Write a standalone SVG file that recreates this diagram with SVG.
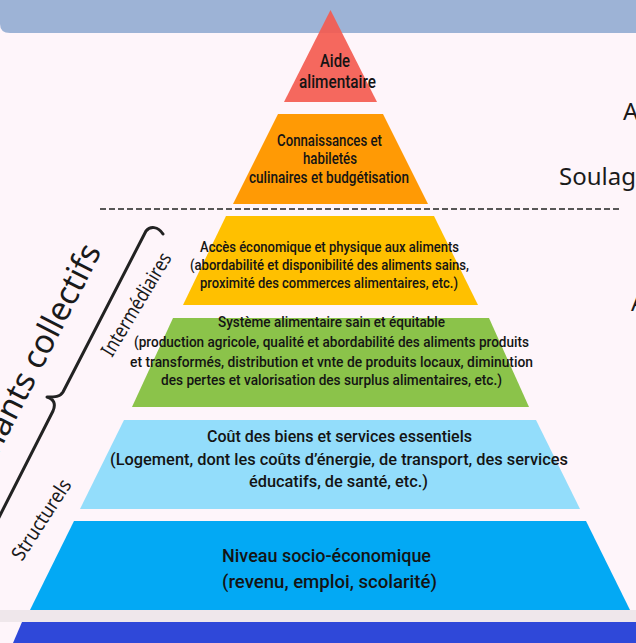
<svg xmlns="http://www.w3.org/2000/svg" width="636" height="643" viewBox="0 0 636 643">
<style>
.pt{font-family:"Liberation Sans Narrow","Roboto","Liberation Sans",sans-serif;font-weight:500;fill:#141414;text-anchor:middle}
.side{font-family:"Noto Sans","Open Sans",sans-serif;fill:#1a1a1a}
.lvl{stroke:none}
</style>
<rect x="0" y="0" width="636" height="643" fill="#FEF5FA"/>
<path d="M0,0 H636 V33 H10 Q0,33 0,24 Z" fill="#9DB3D6"/>
<rect x="0" y="610" width="636" height="12" fill="#EFE7EB"/>
<polygon points="22,622 636,622 636,643 13,643" fill="#2F48D9"/>

<g id="connectors">
<line x1="100" y1="209" x2="622" y2="209" stroke="#222" stroke-width="1.5" stroke-dasharray="6,3"/>
<path d="M163,234 C158,226 150,226 146,231 L63,392 C60,397 55,397 47,397 C54,399 56,404 53,411 L-10,535" fill="none" stroke="#222" stroke-width="3" stroke-linecap="round" stroke-linejoin="round"/>
</g>

<g id="aide">
<polygon class="lvl" points="330.5,10 377,102 284,102" fill="#F45B50" fill-opacity="0.92"/>
<text class="pt" font-size="18.5" x="335" y="67" textLength="30" lengthAdjust="spacingAndGlyphs">Aide</text>
<text class="pt" font-size="18.5" x="337.5" y="88" textLength="77" lengthAdjust="spacingAndGlyphs">alimentaire</text>
</g>

<g id="connaissances">
<polygon class="lvl" points="278,114 383,114 428,204 233,204" fill="#FF9A05"/>
<text class="pt" font-size="16" x="329.5" y="146" textLength="105" lengthAdjust="spacingAndGlyphs">Connaissances et</text>
<text class="pt" font-size="16" x="330" y="164" textLength="54" lengthAdjust="spacingAndGlyphs">habiletés</text>
<text class="pt" font-size="16" x="329" y="183" textLength="160" lengthAdjust="spacingAndGlyphs">culinaires et budgétisation</text>
</g>

<g id="acces">
<polygon class="lvl" points="226,216 434,216 478,305 183,305" fill="#FFC000"/>
<text class="pt" font-size="15" x="329.5" y="252" textLength="259" lengthAdjust="spacingAndGlyphs">Accès économique et physique aux aliments</text>
<text class="pt" font-size="15" x="329.5" y="270" textLength="279" lengthAdjust="spacingAndGlyphs">(abordabilité et disponibilité des aliments sains,</text>
<text class="pt" font-size="15" x="329" y="288" textLength="258" lengthAdjust="spacingAndGlyphs">proximité des commerces alimentaires, etc.)</text>
</g>

<g id="systeme">
<polygon class="lvl" points="173,318 489,318 529,407 132,407" fill="#8BC34A"/>
<text class="pt" font-size="15" x="331.5" y="327" textLength="227" lengthAdjust="spacingAndGlyphs">Système alimentaire sain et équitable</text>
<text class="pt" font-size="15" x="331.5" y="347" textLength="395" lengthAdjust="spacingAndGlyphs">(production agricole, qualité et abordabilité des aliments produits</text>
<text class="pt" font-size="15" x="331.5" y="367" textLength="403" lengthAdjust="spacingAndGlyphs">et transformés, distribution et vnte de produits locaux, diminution</text>
<text class="pt" font-size="15" x="331.5" y="385" textLength="341" lengthAdjust="spacingAndGlyphs">des pertes et valorisation des surplus alimentaires, etc.)</text>
</g>

<g id="cout">
<polygon class="lvl" points="124,420 536,420 580,509 80,509" fill="#93DDFB"/>
<text class="pt" font-size="17" x="339.5" y="442" textLength="265" lengthAdjust="spacingAndGlyphs">Coût des biens et services essentiels</text>
<text class="pt" font-size="17" x="339" y="465" textLength="458" lengthAdjust="spacingAndGlyphs">(Logement, dont les coûts d’énergie, de transport, des services</text>
<text class="pt" font-size="17" x="338.5" y="487" textLength="179" lengthAdjust="spacingAndGlyphs">éducatifs, de santé, etc.)</text>
</g>

<g id="niveau">
<polygon class="lvl" points="74,521 586,521 630,610 30,610" fill="#03A9F4"/>
<text class="pt" font-size="19" x="326.5" y="562" textLength="209" lengthAdjust="spacingAndGlyphs">Niveau socio-économique</text>
<text class="pt" font-size="19" x="329.5" y="588" textLength="215" lengthAdjust="spacingAndGlyphs">(revenu, emploi, scolarité)</text>
</g>

<g id="labels-left">
<text class="side" font-size="33" text-anchor="end" transform="translate(102,251) rotate(-63)">Déterminants collectifs</text>
<text class="side" font-size="20" transform="translate(112,358) rotate(-59)" textLength="117" lengthAdjust="spacingAndGlyphs">Intermédiaires</text>
<text class="side" font-size="20" transform="translate(22,562) rotate(-57)" textLength="92" lengthAdjust="spacingAndGlyphs">Structurels</text>
</g>

<g id="labels-right">
<text class="side" font-size="24" x="623" y="120">A</text>
<text class="side" font-size="24" x="559" y="185">Soulag</text>
<text class="side" font-size="24" x="631" y="311">A</text>
</g>
</svg>
